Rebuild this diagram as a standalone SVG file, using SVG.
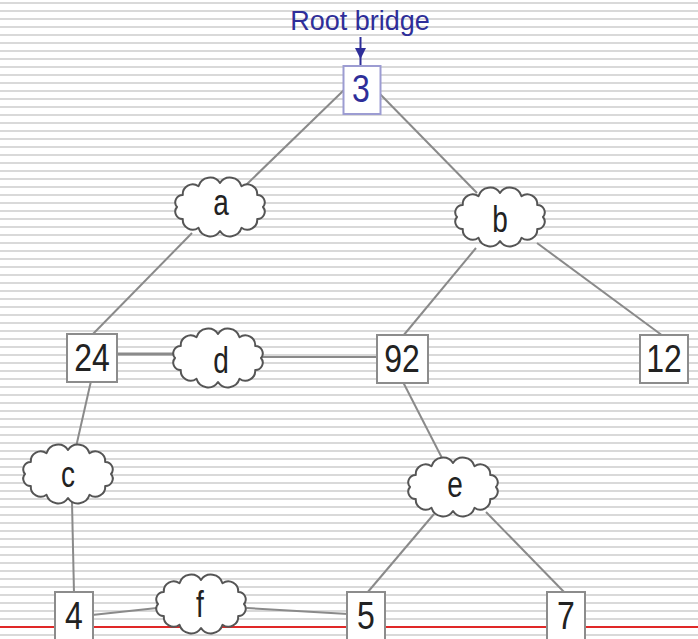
<svg xmlns="http://www.w3.org/2000/svg" width="698" height="639" viewBox="0 0 698 639">
<defs>
<pattern id="ruled" width="698" height="8" patternUnits="userSpaceOnUse">
<rect x="0" y="2" width="698" height="2" fill="#d9d9d9"/>
</pattern>
<path id="cloud" d="M43,0 A7.3,7.3 0 0 1 37.2,12 A9.9,9.9 0 0 1 21.5,20.8 A12,12 0 0 1 0,24 A12,12 0 0 1 -21.5,20.8 A9.9,9.9 0 0 1 -37.2,12 A7.3,7.3 0 0 1 -43,0 A7.3,7.3 0 0 1 -37.2,-12 A9.9,9.9 0 0 1 -21.5,-20.8 A12,12 0 0 1 0,-24 A12,12 0 0 1 21.5,-20.8 A9.9,9.9 0 0 1 37.2,-12 A7.3,7.3 0 0 1 43,0 Z"/>
</defs>
<style>
.box{fill:#fff;stroke:#8c8c8c;stroke-width:2}
.root{fill:#fff;stroke:#9c9cd2;stroke-width:2}
.cl{fill:#fff;stroke:#555;stroke-width:2;stroke-linejoin:round}
.lbl{font-family:"Liberation Sans",Arial,sans-serif;font-size:32px;fill:#222;text-anchor:middle}
.clbl{font-family:"Liberation Sans",Arial,sans-serif;font-size:28px;fill:#222;text-anchor:middle}
.edge{stroke:#8a8a8a;stroke-width:2;fill:none}
</style>
<rect width="698" height="639" fill="#fff"/>
<rect width="698" height="639" fill="url(#ruled)"/>
<rect x="0" y="626" width="698" height="2" fill="#e02828"/>

<g id="connectors">
<line class="edge" x1="344" y1="90" x2="246" y2="185"/>
<line class="edge" x1="192" y1="233" x2="92" y2="335"/>
<line class="edge" x1="379" y1="93" x2="477" y2="193"/>
<line class="edge" x1="476" y1="248" x2="403" y2="336"/>
<line class="edge" x1="537" y1="243" x2="663" y2="336"/>
<line class="edge" x1="116" y1="354" x2="176" y2="354" style="stroke-width:3"/>
<line class="edge" x1="260" y1="357" x2="378" y2="357"/>
<line class="edge" x1="91" y1="381" x2="76" y2="447"/>
<line class="edge" x1="72" y1="502" x2="74" y2="593"/>
<line class="edge" x1="92" y1="615" x2="157" y2="608"/>
<line class="edge" x1="247" y1="608" x2="348" y2="614"/>
<line class="edge" x1="403" y1="382" x2="442" y2="458"/>
<line class="edge" x1="434" y1="514" x2="367" y2="593"/>
<line class="edge" x1="486" y1="512" x2="565" y2="593"/>
<line x1="360.5" y1="37" x2="360.5" y2="65" stroke="#2e2e99" stroke-width="2"/>
<polygon points="355,48 366,48 360.5,59" fill="#2e2e99"/>
</g>

<text x="360" y="30" style="font-family:'Liberation Sans',Arial,sans-serif;font-size:27px;fill:#2e2e99;text-anchor:middle">Root bridge</text>

<g id="node-3">
<rect class="root" x="343.5" y="66" width="37" height="48"/>
<text class="lbl" transform="translate(361,102) scale(1,1.2)" style="fill:#2e2e99">3</text>
</g>
<g id="node-a">
<use href="#cloud" class="cl" transform="translate(220,207)"/>
<text class="clbl" transform="translate(221,215) scale(1,1.35)">a</text>
</g>
<g id="node-b">
<use href="#cloud" class="cl" transform="translate(500,217)"/>
<text class="clbl" transform="translate(500,232) scale(1,1.35)">b</text>
</g>
<g id="node-24">
<rect class="box" x="67" y="334" width="50" height="48"/>
<text class="lbl" transform="translate(92,371) scale(1,1.2)">24</text>
</g>
<g id="node-d">
<use href="#cloud" class="cl" transform="translate(218,358)"/>
<text class="clbl" transform="translate(221,373) scale(1,1.35)">d</text>
</g>
<g id="node-92">
<rect class="box" x="377" y="335" width="51" height="48"/>
<text class="lbl" transform="translate(402,372) scale(1,1.2)">92</text>
</g>
<g id="node-12">
<rect class="box" x="640" y="335" width="48" height="48"/>
<text class="lbl" transform="translate(664,372) scale(1,1.2)">12</text>
</g>
<g id="node-c">
<use href="#cloud" class="cl" transform="translate(68,474)"/>
<text class="clbl" transform="translate(68,487) scale(1,1.35)">c</text>
</g>
<g id="node-e">
<use href="#cloud" class="cl" transform="translate(453,487)"/>
<text class="clbl" transform="translate(455,497) scale(1,1.35)">e</text>
</g>
<g id="node-4">
<rect class="box" x="55" y="592" width="38" height="52"/>
<text class="lbl" transform="translate(74,629) scale(1,1.2)">4</text>
</g>
<g id="node-f">
<use href="#cloud" class="cl" transform="translate(201,604)"/>
<text class="clbl" transform="translate(200,617) scale(1,1.35)">f</text>
</g>
<g id="node-5">
<rect class="box" x="347" y="592" width="38" height="52"/>
<text class="lbl" transform="translate(366,629) scale(1,1.2)">5</text>
</g>
<g id="node-7">
<rect class="box" x="547" y="592" width="38" height="52"/>
<text class="lbl" transform="translate(566,629) scale(1,1.2)">7</text>
</g>
</svg>
